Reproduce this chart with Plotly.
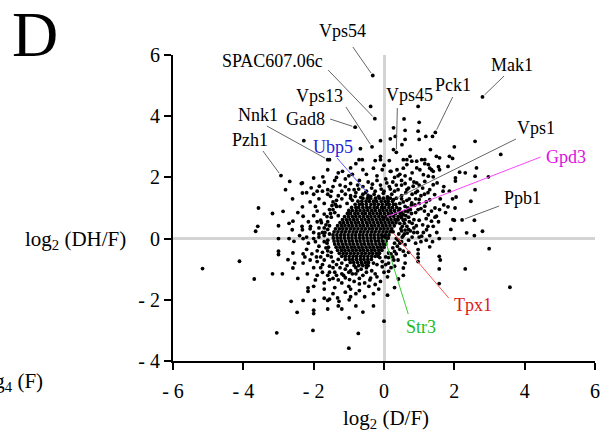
import plotly.graph_objects as go

FONT = "Liberation Serif, Times New Roman, serif"

# ---------------- data (log2 ratios) ----------------
# labelled genes
label_names = ["Vps54", "SPAC607.06c", "Vps13", "Gad8", "Nnk1", "Pzh1", "Ubp5", "Vps45",
               "Pck1", "Mak1", "Vps1", "Gpd3", "Ppb1", "Tpx1", "Str3"]
label_x = [-0.32, -0.26, -0.34, -0.82, -1.60, -2.93, -0.38, 0.35, 1.46, 2.80, 0.27, 0.00, 2.22, 0.22, 0.00]
label_y = [5.33, 3.92, 3.00, 3.64, 2.58, 2.06, 1.38, 2.82, 3.47, 4.63, 1.27, 0.68, 0.61, 0.24, 0.08]
label_colors = ["black"] * 6 + ["#2323d6"] + ["black"] * 4 + ["#dd11dd", "black", "#dd1a1a", "#22bb22"]
line_colors = ["#666666"] * 6 + ["#5a5aff"] + ["#666666"] * 4 + ["#ff44ff", "#666666", "#ff5555", "#33cc33"]

# scattered genes outside the dense core (x = log2 D/F, y = log2 DH/F)
outer_pts = [
    (-0.38, 4.32), (-0.10, 3.20), (0.18, 3.26), (0.27, 3.62), (-2.28, 3.20), (-0.67, 2.94), (0.97, 4.32),
    (0.57, 3.91), (0.32, 3.34), (0.60, 3.54), (1.00, 3.80), (0.97, 3.51), (1.38, 3.34), (0.60, 3.24),
    (1.00, 3.24), (0.51, 3.07), (0.27, 2.91), (-0.71, 2.58), (-0.62, 2.58), (-0.10, 2.69), (-0.10, 2.58),
    (0.65, 2.58), (0.79, 2.53), (1.16, 2.58), (1.19, 3.34), (2.59, 3.18), (2.00, 3.00), (1.32, 2.91),
    (3.32, 2.75), (1.58, 2.64), (1.86, 2.69), (1.95, 2.62), (1.49, 2.69), (-1.55, 2.58), (0.55, 2.58),
    (0.74, 2.69), (0.93, 2.53), (1.07, 2.58),
    (1.35, 2.25), (0.37, 2.25), (0.18, 2.20), (0.93, 2.31), (-0.95, 2.31), (-1.18, 2.20), (0.65, 2.42),
    (1.26, 2.42), (1.40, 2.20), (1.02, 2.25), (1.12, 2.09), (1.26, 2.04), (1.58, 2.25), (1.55, 2.35),
    (2.15, 2.17), (2.31, 2.15), (2.63, 2.31), (2.97, 2.02), (2.59, 2.04), (2.03, 1.98), (1.40, 2.02),
    (1.82, 2.36), (1.16, 2.45), (1.30, 2.30), (-1.60, 2.25), (-2.00, 1.98), (-1.74, 2.02), (-0.50, 2.10),
    (-0.30, 2.30), (0.00, 2.40), (-0.80, 2.45), (-1.30, 2.15), (-0.20, 2.05), (0.45, 2.10), (0.80, 2.15),
    (-1.00, 2.05),
    (-2.68, 1.87), (-2.80, 1.60), (-2.35, 1.80), (-2.07, 1.66), (-1.84, 1.71), (-1.60, 1.60), (-2.32, 1.82),
    (1.16, 1.87), (0.93, 1.82), (1.40, 1.76), (0.83, 1.71), (0.65, 1.60), (1.51, 1.82), (2.59, 1.60),
    (1.86, 1.55), (2.03, 1.88), (1.68, 1.55), (-1.40, 1.90), (-1.25, 1.75), (-1.10, 1.95), (-0.95, 1.80),
    (-0.85, 1.60), (-0.70, 1.90), (-0.60, 1.70), (-0.45, 1.85), (-0.35, 1.65), (-0.20, 1.90), (-0.10, 1.75),
    (0.05, 1.95), (0.15, 1.70), (0.25, 1.85), (0.40, 1.60), (0.50, 1.90), (-1.50, 1.55), (-1.00, 1.60),
    (-0.50, 1.55), (0.00, 1.55), (0.30, 1.55), (0.60, 1.80), (0.75, 1.95), (-1.20, 1.55), (-0.25, 1.55),
    (-3.57, 1.00), (-1.52, 1.38), (-2.32, 1.49), (-2.32, 1.04), (1.44, 1.44), (1.30, 1.27), (1.16, 1.06),
    (0.97, 0.95), (0.79, 1.17), (2.05, 1.36), (1.82, 1.04), (2.47, 1.22), (2.02, 1.00), (-2.00, 1.45),
    (-1.85, 1.30), (-1.70, 1.15), (-2.10, 1.20), (-1.95, 1.05), (-2.60, 1.30), (-1.60, 1.45), (-1.45, 1.20),
    (-1.30, 1.40), (-1.35, 1.05), (0.50, 1.40), (0.65, 1.25), (0.80, 1.45), (0.90, 1.30), (1.05, 1.40),
    (1.20, 1.20), (0.60, 1.05), (1.00, 1.15), (1.60, 1.30), (1.70, 1.10), (0.45, 1.15),
    (-3.17, 0.82), (-2.87, 0.89), (-3.00, 0.42), (-3.59, 0.40), (-3.65, 0.24), (-2.59, 0.57), (-2.30, 0.73),
    (-2.33, 0.40), (-2.09, 0.40), (-2.61, 0.29), (-2.32, 0.29), (1.26, 0.78), (1.35, 0.57), (1.49, 0.73),
    (1.58, 0.95), (1.96, 0.62), (2.00, 0.60), (2.57, 0.60), (1.21, 0.29), (-1.90, 0.90), (-1.80, 0.60),
    (-1.70, 0.80), (-1.65, 0.45), (-1.55, 0.95), (-2.00, 0.75), (-1.85, 0.35), (-2.15, 0.55), (-1.60, 0.30),
    (0.60, 0.90), (0.70, 0.70), (0.80, 0.50), (0.65, 0.40), (0.90, 0.85), (1.00, 0.60), (0.85, 0.35),
    (1.10, 0.45), (0.55, 0.60), (0.75, 0.95), (1.15, 0.90), (-2.45, 0.85), (-2.70, 0.50),
    (-3.00, 0.00), (-2.70, 0.00), (-2.56, -0.09), (-2.00, 0.00), (-2.30, 0.00), (-1.85, 0.05), (-1.70, -0.10),
    (-1.75, 0.20), (-2.15, -0.15), (-2.40, 0.10), (1.57, 0.00), (2.00, 0.00), (1.30, -0.27), (1.07, 0.08),
    (2.35, 0.19), (2.57, 0.10), (2.80, 0.24), (2.99, -0.33), (0.55, 0.10), (0.70, -0.05), (0.85, 0.20),
    (0.60, -0.20), (0.90, -0.15), (1.00, 0.05), (0.50, 0.25), (0.75, 0.25),
    (-4.11, -0.74), (-3.00, -0.41), (-3.00, -0.52), (-2.59, -0.47), (-2.73, -0.69), (-2.54, -0.80),
    (-2.59, -0.96), (-2.30, -0.50), (-2.10, -0.70), (-1.90, -0.40), (-1.75, -0.85), (-1.60, -0.55),
    (-2.00, -0.95), (-1.55, -0.90), (-1.80, -0.60), (-2.20, -0.35), (1.57, -0.58), (1.60, -0.70),
    (0.97, -0.36), (0.97, -0.50), (0.97, -0.62), (0.97, -0.75), (2.31, -0.99), (1.57, -0.99), (0.55, -0.96),
    (0.60, -0.80), (0.55, -0.41), (0.60, -0.55), (0.40, -0.70), (0.13, -0.47), (0.13, -0.62), (0.13, -0.80),
    (0.13, -1.07), (0.30, -0.90), (0.70, -0.45), (0.35, -0.50),
    (-5.16, -0.98), (-3.69, -1.32), (-3.17, -1.15), (-2.89, -1.15), (-2.18, -1.15), (-2.16, -1.61),
    (-2.16, -1.72), (-2.00, -1.56), (-1.55, -1.34), (-1.45, -1.30), (-1.30, -1.35), (-1.10, -1.28),
    (-0.98, -1.34), (-0.70, -1.30), (-0.38, -1.29), (-0.20, -1.25), (-1.00, -1.56), (-0.95, -1.65),
    (-0.43, -1.56), (-0.70, -1.70), (-1.32, -1.94), (-1.28, -2.05), (-0.99, -2.00), (-1.55, -1.98),
    (0.41, -1.32), (1.57, -1.47), (3.58, -1.59), (-1.90, -1.20), (-1.70, -1.45), (-1.40, -1.60),
    (-1.20, -1.15), (-1.75, -1.10), (-2.45, -1.30), (-0.50, -1.10), (-0.80, -1.15), (-0.10, -1.40),
    (0.00, -1.10), (0.30, -1.60), (-0.30, -1.80), (0.10, -1.85), (0.55, -1.20),
    (-2.64, -2.05), (-2.30, -2.02), (-1.98, -2.02), (-1.60, -2.02), (-2.47, -2.41), (-2.00, -2.34),
    (-2.00, -2.45), (-0.99, -2.59), (-3.05, -3.08), (-2.02, -3.00), (-1.00, -3.58), (-0.73, -3.10),
    (-1.60, -2.30), (-1.30, -2.20), (-0.60, -2.40), (0.00, -2.70), (-0.30, -2.20),
    (0.50, 1.75), (0.62, 1.50), (0.72, 1.30), (0.55, 1.20), (0.68, 1.00), (0.50, 0.85), (0.62, 0.75),
    (0.78, 0.82), (0.85, 0.62), (0.92, 0.42), (0.58, 0.50), (0.70, 0.30), (0.52, 0.05), (0.66, 0.18),
    (0.80, 0.05), (0.45, -0.15), (0.95, 1.55), (1.10, 1.65), (1.25, 1.50), (0.88, 1.10), (1.05, 0.98),
    (1.20, 0.65), (1.40, 0.40), (1.50, 0.20), (1.30, 0.10), (1.45, 1.00), (1.55, 0.55), (1.75, 0.85),
    (1.90, 0.30), (1.70, 1.70), (1.95, 1.30), (0.40, 2.05), (0.20, 2.20), (0.55, 2.30), (0.15, 2.55),
    (-0.05, 2.25), (-0.25, 2.55),
    (-1.20, 1.30), (-1.10, 1.45), (-0.95, 1.40), (-0.80, 1.50), (-1.35, 1.25), (-1.45, 0.95), (-1.25, 1.05),
    (-1.50, 0.70), (-1.60, 0.55), (-1.70, 0.35), (-1.55, 0.15), (-1.40, 0.85), (-1.30, 0.75), (-0.60, 1.45),
    (-0.45, 1.40), (-0.90, 1.25), (-1.05, 1.15), (-1.90, 0.55), (-2.00, 0.20), (-1.85, -0.25), (-1.70, 0.10),
    (-1.60, -0.05), (-1.65, -0.30),
    (-1.60, -0.40), (-1.50, -0.60), (-1.45, -0.75), (-1.35, -0.85), (-1.25, -0.95), (-1.10, -1.00),
    (-0.95, -1.05), (-0.80, -0.95), (-0.65, -1.00), (-0.50, -0.95), (-0.35, -1.05), (-0.20, -0.85),
    (-0.05, -0.75), (0.05, -0.60), (-1.70, -0.70), (-1.80, -0.95), (-1.40, -1.10), (-1.15, -1.20),
    (-0.90, -1.15), (-0.60, -1.20), (-1.90, -0.75), (-2.05, -0.50), (-2.30, -0.80), (-1.95, -1.35),
    (-1.60, -1.20), (-1.20, -1.45), (-0.85, -1.40), (-0.55, -1.45), (-0.25, -1.50), (-1.10, -1.75),
    (-0.80, -1.80), (-1.45, -1.80), (-1.70, -1.65), (-0.55, -1.90), (-1.20, -2.30), (-0.80, -2.20),
    (0.25, -0.30), (0.30, -0.15), (0.20, -0.50), (0.35, 0.00), (0.42, 0.15), (0.28, -0.70), (0.45, -0.35),
    (0.20, -0.95),
    # halo round the dense core
    (-0.95, 1.32), (-0.82, 1.38), (-0.66, 1.35), (-0.52, 1.50), (-0.40, 1.33), (-0.28, 1.45), (-0.15, 1.38),
    (-0.02, 1.48), (0.10, 1.36), (0.22, 1.45), (0.35, 1.32), (0.18, 1.62), (-0.08, 1.62), (-0.72, 1.62),
    (-0.33, 1.78), (0.08, 1.82),
    (0.50, 1.30), (0.45, 0.98), (0.55, 0.78), (0.50, 0.68), (0.60, 0.62), (0.52, 0.40), (0.48, 0.32),
    (0.60, 0.28), (0.45, 0.50), (0.58, 0.15), (0.40, -0.05), (0.50, -0.10), (0.38, -0.25), (0.30, -0.42),
    (0.25, -0.60), (0.72, 0.55), (0.68, 0.88), (0.78, 1.10), (0.40, 0.62),
    (-1.62, 0.72), (-1.55, 0.42), (-1.68, 0.20), (-1.62, -0.15), (-1.58, -0.28), (-1.50, -0.45),
    (-1.75, -0.45), (-1.85, 0.15), (-1.78, 0.52), (-1.95, -0.10), (-1.48, 1.08), (-1.38, 1.12),
    (-1.52, 0.82), (-2.20, 0.05), (-2.10, 0.32), (-2.25, -0.60), (-1.92, -0.60),
    (-1.30, -0.68), (-1.20, -0.80), (-1.05, -0.88), (-0.62, -0.85), (-0.45, -0.88), (-0.30, -0.80),
    (-0.12, -0.62), (-0.05, -0.92), (0.05, -0.85), (-1.45, -0.95), (-1.00, -1.10), (-0.75, -1.05),
    (-0.25, -1.15), (-0.40, -1.35), (-0.70, -1.48), (-1.35, -1.20), (-1.55, -1.10), (0.10, -1.25),
    (-0.15, -1.65), (-0.95, -1.90), (-1.70, -1.95),
    (0.35, 1.75), (0.30, 2.00), (0.60, 2.05), (0.85, 1.85), (1.00, 1.75), (0.70, 1.65), (0.90, 1.50),
    (1.15, 1.45), (1.30, 1.60), (1.00, 1.28), (1.35, 0.90), (1.25, 0.40), (1.12, 0.20), (0.95, 0.20),
    (1.05, -0.10), (1.20, -0.05), (1.38, -0.10), (1.45, 0.70),
    (-1.45, 1.70), (-1.70, 1.85), (-1.35, 2.00), (-1.10, 1.70), (-0.90, 2.10), (-0.60, 2.25), (-1.90, 1.55),
    (-2.20, 1.50), (-1.75, 1.55), (-0.75, 1.75),
]

# dense core, read row by row (y value, x values)
core_rows = [
    (1.32, [-0.60, -0.47, -0.38, -0.24, -0.13, -0.02, 0.10, 0.18]),
    (1.22, [-0.74, -0.63, -0.51, -0.42, -0.30, -0.21, -0.08, 0.03, 0.12, 0.24]),
    (1.12, [-0.82, -0.70, -0.61, -0.50, -0.37, -0.27, -0.16, -0.05, 0.07, 0.15, 0.27, 0.33]),
    (1.02, [-0.92, -0.80, -0.72, -0.60, -0.49, -0.40, -0.28, -0.19, -0.07, 0.02, 0.14, 0.24, 0.36]),
    (0.92, [-1.00, -0.90, -0.79, -0.68, -0.57, -0.46, -0.35, -0.25, -0.13, -0.03, 0.08, 0.19, 0.30, 0.42]),
    (0.82, [-1.04, -0.95, -0.83, -0.74, -0.62, -0.53, -0.41, -0.31, -0.20, -0.10, 0.01, 0.12, 0.22, 0.33, 0.46]),
    (0.72, [-1.12, -1.01, -0.90, -0.80, -0.69, -0.58, -0.47, -0.37, -0.26, -0.15, -0.05, 0.06, 0.17, 0.28, 0.40, 0.48]),
    (0.62, [-1.18, -1.07, -0.97, -0.86, -0.76, -0.64, -0.54, -0.43, -0.33, -0.22, -0.11, -0.01, 0.10, 0.20, 0.31, 0.38]),
    (0.52, [-1.25, -1.15, -1.04, -0.93, -0.82, -0.72, -0.61, -0.50, -0.40, -0.29, -0.18, -0.08, 0.03, 0.14, 0.24, 0.34]),
    (0.42, [-1.32, -1.21, -1.11, -1.00, -0.90, -0.79, -0.68, -0.58, -0.47, -0.36, -0.26, -0.15, -0.04, 0.06, 0.17, 0.29]),
    (0.32, [-1.38, -1.27, -1.17, -1.06, -0.95, -0.85, -0.74, -0.63, -0.53, -0.42, -0.32, -0.21, -0.10, 0.00, 0.11, 0.22]),
    (0.22, [-1.42, -1.31, -1.20, -1.10, -0.99, -0.88, -0.78, -0.67, -0.57, -0.46, -0.35, -0.25, -0.14, -0.03, 0.07, 0.17, 0.26]),
    (0.12, [-1.45, -1.34, -1.23, -1.13, -1.02, -0.91, -0.81, -0.70, -0.60, -0.49, -0.38, -0.28, -0.17, -0.07, 0.04, 0.14]),
    (0.02, [-1.44, -1.33, -1.23, -1.12, -1.01, -0.91, -0.80, -0.69, -0.59, -0.48, -0.37, -0.27, -0.16, -0.06, 0.05, 0.12]),
    (-0.08, [-1.42, -1.31, -1.21, -1.10, -0.99, -0.89, -0.78, -0.68, -0.57, -0.46, -0.36, -0.25, -0.15, -0.04, 0.06]),
    (-0.18, [-1.40, -1.29, -1.18, -1.08, -0.97, -0.87, -0.76, -0.65, -0.55, -0.44, -0.34, -0.23, -0.12, -0.02, 0.05]),
    (-0.28, [-1.36, -1.25, -1.15, -1.04, -0.93, -0.83, -0.72, -0.62, -0.51, -0.40, -0.30, -0.19, -0.09, 0.00]),
    (-0.38, [-1.32, -1.21, -1.11, -1.00, -0.89, -0.79, -0.68, -0.58, -0.47, -0.36, -0.26, -0.15, -0.06]),
    (-0.48, [-1.27, -1.16, -1.06, -0.95, -0.85, -0.74, -0.63, -0.53, -0.42, -0.32, -0.21, -0.13]),
    (-0.58, [-1.20, -1.10, -0.99, -0.88, -0.78, -0.67, -0.57, -0.46, -0.35, -0.25, -0.16]),
    (-0.68, [-1.10, -0.99, -0.89, -0.78, -0.67, -0.57, -0.46, -0.36]),
    (-0.78, [-0.96, -0.86, -0.75, -0.64, -0.53, -0.44]),
    (-0.88, [-0.85, -0.72, -0.60, -0.50]),
]

x_ticks = [-6, -4, -2, 0, 2, 4, 6]
x_ticklabels = ["- 6", "- 4", "- 2", "0", "2", "4", "6"]
y_ticks = [-4, -2, 0, 2, 4, 6]
y_ticklabels = ["- 4", "- 2", "0", "2", "4", "6"]

# ---------------- layout geometry ----------------
W, H = 609, 438
L, R, T, B = 173, 9, 55, 77
XR, YR = (-6, 6), (-4, 6)
PW, PH = W - L - R, H - T - B


def px_x(px):
    return (px - L) / PW


def px_y(py):
    return (H - B - py) / PH


def data_to_px(x, y):
    return (L + (x - XR[0]) / (XR[1] - XR[0]) * PW,
            H - B - (y - YR[0]) / (YR[1] - YR[0]) * PH)


# label text centres and leader-line tails (pixel positions)
text_pos = [(345, 31), (274, 61), (321, 96), (307, 119), (259, 115), (251, 140), (335, 147), (412, 95),
            (456, 85), (516, 65), (540, 128), (571, 157), (527, 198), (477, 305), (424, 327)]
tail_pos = [(355, 47), (330, 70), (348, 107), (332, 119), (268, 126), (264, 151), (339, 158), (400, 108),
            (456, 97), (508, 76), (520, 139), (545, 157), (503, 206), (452, 298), (411, 314)]

xs = [p[0] for p in outer_pts] + label_x
ys = [p[1] for p in outer_pts] + label_y
for yv, row in core_rows:
    xs += row
    ys += [yv] * len(row)

fig = go.Figure()
fig.add_trace(go.Scatter(x=xs, y=ys, mode="markers",
                         marker=dict(color="black", size=3.8, line=dict(width=0)),
                         hoverinfo="skip", showlegend=False))

shapes = []
annotations = []
for i, name in enumerate(label_names):
    hx, hy = data_to_px(label_x[i], label_y[i])
    tx, ty = tail_pos[i]
    dx, dy = hx - tx, hy - ty
    d = (dx * dx + dy * dy) ** 0.5
    gap = 3.0
    ex, ey = hx - dx / d * gap, hy - dy / d * gap
    shapes.append(dict(type="line", xref="paper", yref="paper",
                       x0=px_x(tx), y0=px_y(ty), x1=px_x(ex), y1=px_y(ey),
                       line=dict(color=line_colors[i], width=1)))
    cx, cy = text_pos[i]
    annotations.append(dict(text=name, xref="paper", yref="paper", x=px_x(cx), y=px_y(cy),
                            xanchor="center", yanchor="middle", showarrow=False,
                            font=dict(family=FONT, size=18, color=label_colors[i])))

annotations += [
    dict(text="log<sub>2</sub> (DH/F)", xref="paper", yref="paper", x=px_x(74), y=px_y(240),
         xanchor="center", yanchor="middle", showarrow=False,
         font=dict(family=FONT, size=21, color="black")),
    dict(text="log<sub>2</sub> (D/F)", xref="paper", yref="paper", x=px_x(389), y=px_y(419),
         xanchor="center", yanchor="middle", showarrow=False,
         font=dict(family=FONT, size=21, color="black")),
    dict(text="D", xref="paper", yref="paper", x=px_x(8), y=px_y(34),
         xanchor="left", yanchor="middle", showarrow=False,
         font=dict(family=FONT, size=64, color="black")),
    dict(text="log<sub>4</sub> (F)", xref="paper", yref="paper", x=px_x(43), y=px_y(382),
         xanchor="right", yanchor="middle", showarrow=False,
         font=dict(family=FONT, size=21, color="black")),
]

axis_common = dict(showgrid=False, zeroline=True, zerolinecolor="#d4d4d4", zerolinewidth=2.5,
                   showline=True, linecolor="black", linewidth=2.2, ticks="outside",
                   ticklen=7, tickwidth=2.2, tickcolor="black",
                   tickfont=dict(family=FONT, size=20, color="black"), tickmode="array")

fig.update_layout(
    width=W, height=H, margin=dict(l=L, r=R, t=T, b=B),
    paper_bgcolor="white", plot_bgcolor="white",
    xaxis=dict(range=list(XR), tickvals=x_ticks, ticktext=x_ticklabels, ticklabelstandoff=4,
               **axis_common),
    yaxis=dict(range=list(YR), tickvals=y_ticks, ticktext=y_ticklabels, **axis_common),
    shapes=shapes, annotations=annotations, showlegend=False,
)

fig.write_html("out.html")
